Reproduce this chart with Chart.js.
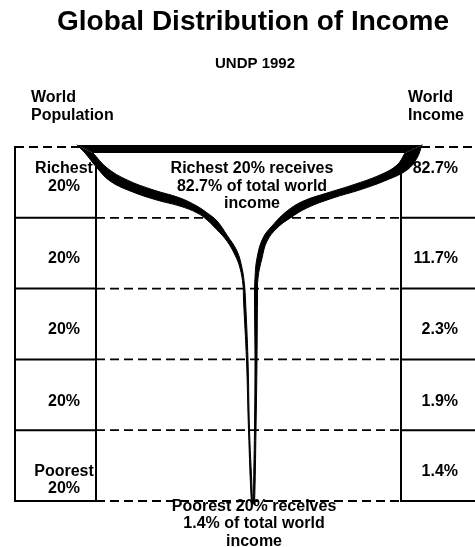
<!DOCTYPE html>
<html>
<head>
<meta charset="utf-8">
<title>Global Distribution of Income</title>
<script src="https://cdn.jsdelivr.net/npm/chart.js@4.4.1/dist/chart.umd.min.js"></script>
<style>
  html, body { margin: 0; padding: 0; background: #fff; }
</style>
</head>
<body>
<canvas id="glass" width="475" height="547"></canvas>
<script>
// Data (UNDP 1992): each row is one fifth of the world population
const popLabels = [['Richest', '20%'], ['20%'], ['20%'], ['20%'], ['Poorest', '20%']];
const incomeShare = [82.7, 11.7, 2.3, 1.9, 1.4];
const rowEdges = [0, 20, 40, 60, 80, 100];

// Champagne glass outline: [width, population depth %]
const leftOuter = [[-173, -0.6], [-165, 1.7], [-153, 5.9], [-140, 9.6], [-120, 12.4], [-93, 15.0],
  [-70, 16.7], [-53, 18.6], [-43, 20.6], [-33, 23.4], [-23, 26.6], [-15, 30.5], [-10, 34.2],
  [-7, 39.0], [-6.5, 43.2], [-3.5, 60.2], [-1.5, 79.9], [1.5, 101.1]];
const leftInner = [[-157, 1.7], [-143, 5.9], [-123, 9.3], [-97, 12.1], [-70, 14.4], [-53, 16.7],
  [-43, 18.6], [-33, 20.9], [-23, 24.9], [-13, 29.4], [-8, 34.2], [-5.5, 39.0], [-4.5, 43.2],
  [-2, 60.2], [-0.5, 79.9], [2.5, 100.6]];
const rightOuter = [[172, -0.6], [167, 3.1], [157, 6.5], [137, 9.3], [110, 12.1], [83, 14.4],
  [57, 17.2], [40, 20.1], [27, 22.9], [17, 26.6], [12, 31.4], [8, 37.0], [7.5, 43.2],
  [7, 60.2], [6, 79.9], [4.5, 101.1]];
const rightInner = [[155, 1.7], [147, 5.1], [130, 7.9], [103, 10.7], [77, 13.0], [53, 15.3],
  [37, 18.1], [23, 22.0], [13, 25.7], [7, 31.4], [5, 37.0], [4.5, 43.2], [5, 60.2],
  [4.5, 79.9], [3.5, 100.6]];

// Layout (scale units)
const X_RANGE = [-250, 225];
const Y_RANGE = [-41.53, 113];
const POP_COL = [-235, -154];
const INC_COL = [151, 225];
const labelDepth = [6.2, 31.5, 51.6, 71.9, 91.6];
const LINE_STEP = 4.94;
const FONT = '"Liberation Sans", Arial, Helvetica, sans-serif';

function line(points, opts) {
    return Object.assign({
        data: points.map(([x, y]) => ({ x: x, y: y })),
        borderColor: '#000',
        borderWidth: 2,
        borderCapStyle: 'square',
        pointRadius: 0,
        pointHitRadius: 0,
        fill: false,
        tension: 0,
        order: 4
    }, opts);
}

// Table frame: dashed row lines across the middle, solid boxes at the sides
const dashed = { borderDash: [9, 5], borderWidth: 1.8, borderCapStyle: 'butt' };
const frame = [];
rowEdges.forEach(function (edge) {
    if (edge === 0) {
        frame.push(line([[POP_COL[0], edge], [X_RANGE[1], edge]], dashed));
        return;
    }
    frame.push(line([[POP_COL[1], edge], [INC_COL[0], edge]], dashed));
    frame.push(line([[POP_COL[0], edge], [POP_COL[1], edge]]));
    frame.push(line([[INC_COL[0], edge], [INC_COL[1], edge]]));
});
frame.push(line([[POP_COL[0], 0], [POP_COL[0], 100]]));
frame.push(line([[POP_COL[1], 5.5], [POP_COL[1], 100]]));
frame.push(line([[INC_COL[0], 5.5], [INC_COL[0], 100]]));

// The glass: white bowl, black rim, black walls
const inBowl = p => p[1] < 38;
const glass = [
    line(leftInner.filter(inBowl).concat(rightInner.filter(inBowl).reverse()),
        { borderWidth: 0, fill: 'shape', backgroundColor: '#fff', tension: 0.4, order: 3 }),
    line([leftOuter[0], rightOuter[0], rightInner[0], leftInner[0]],
        { borderWidth: 0, fill: 'shape', backgroundColor: '#000', order: 2 }),
    line(leftOuter.concat(leftInner.slice().reverse()),
        { borderWidth: 1, fill: 'shape', backgroundColor: '#000', tension: 0.4, order: 1 }),
    line(rightOuter.concat(rightInner.slice().reverse()),
        { borderWidth: 1, fill: 'shape', backgroundColor: '#000', tension: 0.4, order: 1 })
];

// All text placed through the scales
const textPlugin = {
    id: 'glassText',
    afterDatasetsDraw(chart) {
        const { ctx } = chart;
        const { x, y } = chart.scales;
        const put = function (text, xv, yv, size, align) {
            ctx.font = 'bold ' + size + 'px ' + FONT;
            ctx.textAlign = align || 'center';
            ctx.fillText(text, x.getPixelForValue(xv), y.getPixelForValue(yv));
        };
        ctx.save();
        ctx.fillStyle = '#000';
        ctx.textBaseline = 'middle';

        put('Global Distribution of Income', 3, -35.2, 28);
        put('UNDP 1992', 5, -23.4, 15);
        put('World', -219, -14, 16, 'left');
        put('Population', -219, -8.9, 16, 'left');
        put('World', 158, -14, 16, 'left');
        put('Income', 158, -8.9, 16, 'left');

        popLabels.forEach(function (lines, i) {
            lines.forEach(function (t, k) {
                put(t, -186, labelDepth[i] + k * LINE_STEP, 16);
            });
            put(incomeShare[i].toFixed(1) + '%', 208, labelDepth[i], 16, 'right');
        });

        ['Richest 20% receives', incomeShare[0] + '% of total world', 'income']
            .forEach((t, k) => put(t, 2, 6.2 + k * 4.9, 16));
        ['Poorest 20% receives', incomeShare[4] + '% of total world', 'income']
            .forEach((t, k) => put(t, 4, 101.6 + k * 4.9, 16));
        ctx.restore();
    }
};

new Chart(document.getElementById('glass'), {
    type: 'line',
    data: { datasets: frame.concat(glass) },
    options: {
        responsive: false,
        animation: false,
        layout: { padding: 0 },
        scales: {
            x: { type: 'linear', min: X_RANGE[0], max: X_RANGE[1], display: false },
            y: { type: 'linear', min: Y_RANGE[0], max: Y_RANGE[1], reverse: true, display: false }
        },
        plugins: {
            legend: { display: false },
            tooltip: { enabled: false }
        }
    },
    plugins: [textPlugin]
});
</script>
</body>
</html>
